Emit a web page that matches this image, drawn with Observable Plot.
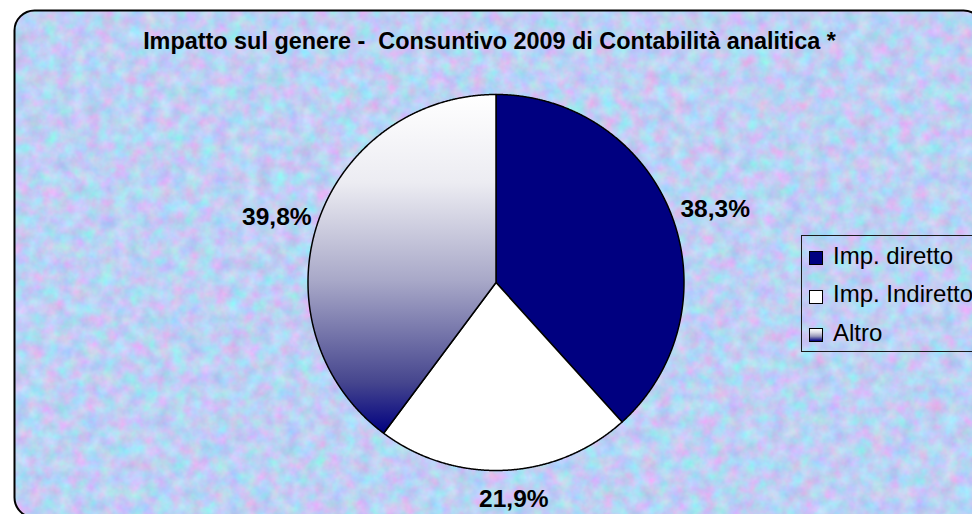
<!DOCTYPE html>
<html><head><meta charset="utf-8">
<script src="https://cdn.jsdelivr.net/npm/d3@7"></script>
<script src="https://cdn.jsdelivr.net/npm/@observablehq/plot@0.6"></script>
<style>
html,body{margin:0;padding:0;width:972px;height:514px;overflow:hidden;background:#fff;}
#wrap{position:relative;width:972px;height:514px;overflow:hidden;}
#wrap svg text{white-space:pre;}
#legend{position:absolute;left:801px;top:235px;width:230px;height:117px;border:1px solid #1a1a1a;box-sizing:border-box;font-family:"Liberation Sans",Arial,sans-serif;font-size:24px;color:#000;}
.sw{position:absolute;left:7px;width:14px;height:14px;box-sizing:border-box;border:1px solid #000;}
.lt{position:absolute;left:31px;line-height:24px;white-space:nowrap;}
</style></head><body><div id="wrap"></div>
<script>
const title = "Impatto sul genere -  Consuntivo 2009 di Contabilità analitica *";
const categories = ["Imp. diretto", "Imp. Indiretto", "Altro"];
const values = [38.3, 21.9, 39.8];
const sliceFills = ["#000080", "#ffffff", "url(#altroGrad)"];
const legendFills = ["#000080", "#ffffff", "linear-gradient(#ffffff 0%, #d8d8e4 30%, #9a9abc 60%, #000080 100%)"];

const arcs = d3.pie().sort(null).value(d => d)(values);
const slices = arcs.map((p, i) => ({key: categories[i], value: values[i], start: p.startAngle, end: p.endAngle, fill: sliceFills[i]}));

// outline of each slice: centre -> arc -> centre (unit circle, y up)
const outline = slices.flatMap(s => {
  const n = Math.max(2, Math.ceil((s.end - s.start) / 0.004));
  const pts = [{key: s.key, x: 0, y: 0}];
  for (let k = 0; k <= n; k++) {
    const a = s.start + (s.end - s.start) * k / n;
    pts.push({key: s.key, x: Math.sin(a), y: Math.cos(a)});
  }
  pts.push({key: s.key, x: 0, y: 0});
  return pts;
});

const labels = slices.map(s => {
  const a = (s.start + s.end) / 2;
  const sx = Math.sin(a), cy = Math.cos(a);
  return {
    key: s.key, x: sx, y: cy,
    text: s.value.toFixed(1).replace(".", ",") + "%",
    side: Math.abs(sx) < 0.4 ? (cy < 0 ? "bottom" : "top") : (sx > 0 ? "right" : "left")
  };
});

const labelStyle = {x: "x", y: "y", text: "text", fontSize: 24.5, fontWeight: "bold", fill: "#000"};

const chart = Plot.plot({
  width: 972, height: 514, margin: 0,
  x: {domain: [-1, 1], range: [307.5, 683.5], axis: null},
  y: {domain: [-1, 1], range: [470, 94], axis: null},
  style: {fontFamily: '"Liberation Sans", Arial, sans-serif', background: "#ffffff"},
  marks: [
    Plot.frame({fill: "url(#bgtex)", stroke: "#000", strokeWidth: 2, rx: 20, ry: 20,
      insetLeft: 14, insetTop: 10, insetRight: -11, insetBottom: -3}),
    ...slices.map(s => Plot.line(outline.filter(d => d.key === s.key), {
      x: "x", y: "y", fill: s.fill, stroke: "#000", strokeWidth: 1.5, strokeLinejoin: "round"
    })),
    Plot.text(labels.filter(d => d.side === "right"), {...labelStyle, textAnchor: "start", dx: 9, dy: -6}),
    Plot.text(labels.filter(d => d.side === "left"), {...labelStyle, textAnchor: "end", dx: -6, dy: -6}),
    Plot.text(labels.filter(d => d.side === "bottom"), {...labelStyle, textAnchor: "middle", dx: 9, dy: 29}),
    Plot.text(labels.filter(d => d.side === "top"), {...labelStyle, textAnchor: "middle", dy: -20}),
    Plot.text([title], {frameAnchor: "top", lineAnchor: "bottom", dx: 3, dy: 48, text: d => d,
      fontSize: 23.4, fontWeight: "bold", fill: "#000"})
  ]
});

const svg = d3.select(chart);
svg.insert("defs", ":first-child").html(`
  <filter id="noise" x="0" y="0" width="1" height="1" color-interpolation-filters="sRGB">
    <feTurbulence type="fractalNoise" baseFrequency="0.07" numOctaves="4" seed="7" result="t"/>
    <feColorMatrix in="t" type="matrix" values="0.4 -0.15 0 0 0.615  -0.12 0.3 0 0 0.725  0 0 0.15 0 0.88  0 0 0 0 1"/>
  </filter>
  <pattern id="bgtex" patternUnits="userSpaceOnUse" x="0" y="0" width="972" height="514">
    <rect width="972" height="514" fill="#c0c8f0" filter="url(#noise)"/>
  </pattern>
  <linearGradient id="altroGrad" x1="0" y1="0" x2="0" y2="1">
    <stop offset="0" stop-color="#ffffff"/>
    <stop offset="0.26" stop-color="#ececf2"/>
    <stop offset="0.55" stop-color="#a8a8c8"/>
    <stop offset="0.85" stop-color="#46468e"/>
    <stop offset="1" stop-color="#000080"/>
  </linearGradient>`);

const wrap = document.getElementById("wrap");
wrap.appendChild(chart);

const legend = document.createElement("div");
legend.id = "legend";
categories.forEach((c, i) => {
  const sw = document.createElement("div");
  sw.className = "sw";
  sw.style.top = (15 + 38.5 * i) + "px";
  sw.style.background = legendFills[i];
  const t = document.createElement("div");
  t.className = "lt";
  t.style.top = (7.7 + 38.6 * i) + "px";
  t.textContent = c;
  legend.appendChild(sw);
  legend.appendChild(t);
});
wrap.appendChild(legend);
</script></body></html>
